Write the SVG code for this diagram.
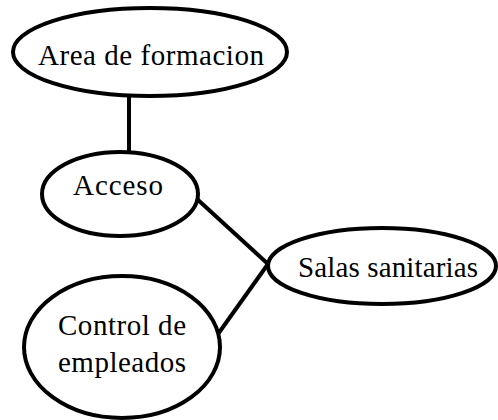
<svg xmlns="http://www.w3.org/2000/svg" width="498" height="420" viewBox="0 0 498 420">
<style>
.n{fill:#fff;stroke:#000;stroke-width:4}
.t{font-family:"Liberation Serif","Times New Roman",serif;font-size:29px;fill:#000;text-anchor:middle}
.c{stroke:#000;stroke-width:4;fill:none}
</style>
<rect width="498" height="420" fill="#fff"/>
<g id="connectors">
<line class="c" x1="129" y1="96" x2="129" y2="153"/>
<line class="c" x1="197" y1="199" x2="268" y2="264"/>
<line class="c" x1="268" y1="264" x2="218" y2="334"/>
</g>
<g id="area">
<ellipse class="n" cx="150" cy="52" rx="137" ry="44"/>
<text class="t" x="151" y="65" textLength="226" lengthAdjust="spacing">Area de formacion</text>
</g>
<g id="acceso">
<ellipse class="n" cx="120" cy="194" rx="78" ry="42"/>
<text class="t" x="118" y="195" textLength="90" lengthAdjust="spacing">Acceso</text>
</g>
<g id="salas">
<ellipse class="n" cx="382" cy="266" rx="114" ry="38"/>
<text class="t" x="388" y="277" textLength="180" lengthAdjust="spacing">Salas sanitarias</text>
</g>
<g id="control">
<ellipse class="n" cx="122" cy="347" rx="98" ry="71"/>
<text class="t" x="122" y="335" textLength="128" lengthAdjust="spacing">Control de</text>
<text class="t" x="122" y="372" textLength="128" lengthAdjust="spacing">empleados</text>
</g>
</svg>
